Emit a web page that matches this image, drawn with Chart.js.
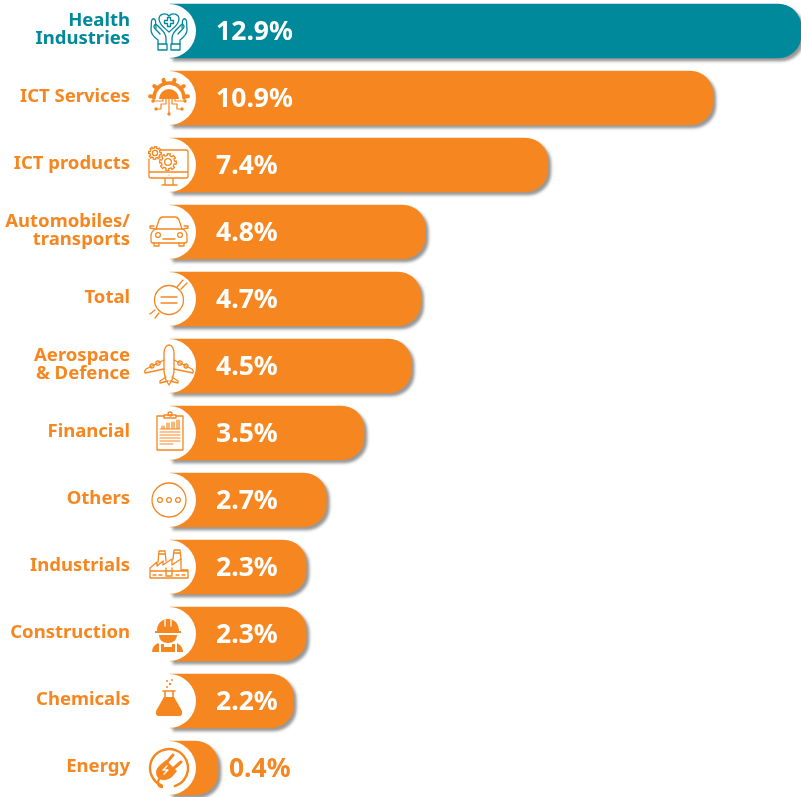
<!DOCTYPE html>
<html lang="en">
<head>
<meta charset="UTF-8">
<title>Sector shares</title>
<script src="https://cdn.jsdelivr.net/npm/chart.js"></script>
<style>
  html, body { margin: 0; padding: 0; background: #fff; overflow: hidden; }
  #wrap { position: relative; width: 801px; height: 797px; overflow: hidden; }
  #chart { position: absolute; left: 0; top: -3px; }
</style>
</head>
<body>
<div id="wrap"><canvas id="chart" width="801" height="805"></canvas></div>
<script>
const categories = [['Health', 'Industries'], 'ICT Services', 'ICT products', ['Automobiles/', 'transports'],
  'Total', ['Aerospace', '& Defence'], 'Financial', 'Others', 'Industrials', 'Construction', 'Chemicals', 'Energy'];
// bar lengths as drawn in the picture (top bar stops at the page edge, Chemicals is drawn shorter than its label)
const barLengths = [12.77, 10.9, 7.4, 4.8, 4.7, 4.5, 3.5, 2.7, 2.27, 2.27, 2.0, 0.4];
const valueLabels = ['12.9%', '10.9%', '7.4%', '4.8%', '4.7%', '4.5%', '3.5%', '2.7%', '2.3%', '2.3%', '2.2%', '0.4%'];

const TEAL = '#00889b';
const ORANGE = '#f68720';
const axisMin = -0.617;
const axisMax = 12.77;
const FONT = '"Noto Sans"';

function stroke(ctx, d) { ctx.stroke(new Path2D(d)); }
function fill(ctx, d) { ctx.fill(new Path2D(d)); }
function circle(ctx, x, y, r, filled) {
  ctx.beginPath();
  ctx.arc(x, y, r, 0, Math.PI * 2);
  if (filled) ctx.fill(); else ctx.stroke();
}
function gear(ctx, x, y, r, teeth) {
  ctx.beginPath();
  for (let i = 0; i < teeth * 2; i++) {
    const a0 = (i - 0.25) * Math.PI / teeth, a1 = (i + 0.75) * Math.PI / teeth;
    const rr = i % 2 ? r * 0.78 : r;
    ctx.lineTo(x + rr * Math.cos(a0), y + rr * Math.sin(a0));
    ctx.lineTo(x + rr * Math.cos(a1), y + rr * Math.sin(a1));
  }
  ctx.closePath();
  ctx.save();
  ctx.fillStyle = '#fff';
  ctx.fill();
  ctx.restore();
  ctx.stroke();
  circle(ctx, x, y, r * 0.4);
}

// one small drawing per category, in the same order
const icons = [
  ctx => { // hands and heart
    stroke(ctx, 'M0 1C-4 -3 -10 -6 -10 -12C-10 -17 -3 -19 0 -15C3 -19 10 -17 10 -12C10 -6 4 -3 0 1Z');
    stroke(ctx, 'M-1.5 -13.5h3v3h3v3h-3v3h-3v-3h-3v-3h3z');
    [1, -1].forEach(s => {
      ctx.save();
      ctx.scale(s, 1);
      stroke(ctx, 'M11 13V9C15 6 18 3 18 -1L17.5 -10C17 -13 14 -13 13.5 -10L13 -3');
      stroke(ctx, 'M3 13V7C3 3 5 1 8 -2L12 -6C14 -7.5 16 -5 14.5 -3L9 3');
      ctx.strokeRect(2, 13, 9, 6);
      ctx.restore();
    });
  },
  ctx => { // gear with circuit lines
    ctx.lineWidth = 3.6;
    ctx.beginPath();
    ctx.arc(0, 0, 15, Math.PI, Math.PI * 2);
    ctx.stroke();
    for (let a = 185; a <= 355; a += 34) {
      const t = a * Math.PI / 180;
      ctx.beginPath();
      ctx.moveTo(15 * Math.cos(t), 15 * Math.sin(t));
      ctx.lineTo(19 * Math.cos(t), 19 * Math.sin(t));
      ctx.lineWidth = 4;
      ctx.stroke();
    }
    ctx.beginPath();
    ctx.arc(0, 1, 10, Math.PI, Math.PI * 2);
    ctx.closePath();
    ctx.fill();
    ctx.lineWidth = 1.2;
    stroke(ctx, 'M0 1V16M-3 1V6H-8V11H-13M3 1V6H8V11H13M-6 1V3H-15M6 1V3H15');
    [[0, 16], [-13, 11], [13, 11], [-16, 3], [16, 3]].forEach(p => circle(ctx, p[0], p[1], 1.7, true));
  },
  ctx => { // monitor and gears
    stroke(ctx, 'M-11 -15H17Q19 -15 19 -13V11Q19 13 17 13H-18Q-20 13 -20 11V-6M-20 7H19M-4 13V19M4 13V19M-7 20H8');
    circle(ctx, 0, 10, 0.6, true);
    gear(ctx, -14, -12, 6.5, 8);
    gear(ctx, -1, -3, 8.5, 8);
  },
  ctx => { // car
    stroke(ctx, 'M-13 -3L-10 -12Q-9 -15 -6 -15H6Q9 -15 10 -12L13 -3M-13 -3H13M-13 -3Q-18 -1 -18 4V9Q-18 11 -16 11H16Q18 11 18 9V4Q18 -1 13 -3');
    stroke(ctx, 'M-15 11V14H-10V11M15 11V14H10V11M-6 7H6M-14 -3L-19 -4V-6H-15M14 -3L19 -4V-6H15');
    circle(ctx, -11, 3, 2.4);
    circle(ctx, 11, 3, 2.4);
  },
  ctx => { // circle with equals sign
    circle(ctx, 0, 1, 14.5);
    stroke(ctx, 'M-8 -2H8M-8 4H8M8 -12L14 -19M12 -10L18 -16M-14 11L-19 15M-10 14L-14 19');
  },
  ctx => { // plane
    stroke(ctx, 'M0 -21C3 -21 5 -17 5 -13V6L3 14L0 19L-3 14L-5 6V-13C-5 -17 -3 -21 0 -21Z');
    stroke(ctx, 'M-5 -6L-23 3Q-25 5 -24 7L-5 3M5 -6L23 3Q25 5 24 7L5 3M-3 11L-9 15V17L-1 15M3 11L9 15V17L1 15');
    circle(ctx, -11, -3, 2.2);
    circle(ctx, -17, 0, 2);
    circle(ctx, 11, -3, 2.2);
    circle(ctx, 17, 0, 2);
  },
  ctx => { // clipboard with bars
    stroke(ctx, 'M-5 -17H-12V17H14V-17H7');
    stroke(ctx, 'M-5 -15H7V-18H-5Z');
    circle(ctx, 1, -19, 2);
    ctx.lineWidth = 1.2;
    stroke(ctx, 'M-9 -4H11M-7 -4V-7M-5 -4V-7M-2 -4V-10M0 -4V-10M3 -4V-11M5 -4V-11M8 -4V-13M10 -4V-13');
    stroke(ctx, 'M-9 -1H11M-9 2H11M-9 5H11M-9 8H11M-9 11H4');
  },
  ctx => { // dots in a circle
    circle(ctx, 0, 0, 17);
    [-9, 0, 9].forEach(x => circle(ctx, x, 0, 2.4));
  },
  ctx => { // factory
    stroke(ctx, 'M-19 11H19M-19 11V1L-12 -5V-1L-6 -6V-2L3 -8V-2L12 -8V3L19 3V11M-19 4H19');
    stroke(ctx, 'M-11 -5L-10 -16H-4L-3 -6M4 -8L5 -17H11L12 -8M-10 -13H-4M5 -14H11');
    stroke(ctx, 'M-16 8H-13M-10 8H-7M-3 1V9H3V1M7 8H10M13 8H16');
  },
  ctx => { // worker
    fill(ctx, 'M-12 -3C-12 -10 -8 -15 -1 -15C6 -15 10 -10 10 -3H12V-1H-14V-3Z');
    fill(ctx, 'M-10 1H8C8 6 4 9 -1 9C-6 9 -10 6 -10 1Z');
    fill(ctx, 'M-10 18H-17C-17 14 -15 11 -11 9L-10 10ZM8 18H14C14 14 12 11 8 9L8 10ZM-8 18V10H-5V13H3V10H6V18Z');
    ctx.save();
    ctx.strokeStyle = '#fff';
    stroke(ctx, 'M-4 -14V-8M2 -14V-8');
    ctx.restore();
  },
  ctx => { // flask
    fill(ctx, 'M-5 -4H5L13 10Q14 15 10 15H-10Q-14 15 -13 10Z');
    ctx.lineWidth = 1.6;
    stroke(ctx, 'M-6 -10H6M-4 -10V-3L-5 -1M4 -10V-3L5 -1');
    [[-2, -14, 1], [1, -17, 1.2], [-2, -20, 1], [3, -21, 1]].forEach(p => circle(ctx, p[0], p[1], p[2], true));
  },
  ctx => { // plug in a ring
    ctx.lineWidth = 2.4;
    ctx.beginPath();
    ctx.arc(0, 0, 19, Math.PI * 0.62, Math.PI * 2.4);
    ctx.stroke();
    stroke(ctx, 'M-7 19C-12 18 -12 13 -9 10');
    fill(ctx, 'M-11 10Q-16 3 -9 -3L-3 -8L8 3L3 9Q-4 15 -11 10Z');
    ctx.lineWidth = 3;
    stroke(ctx, 'M-2 -6L4 -13M5 0L12 -6');
    ctx.save();
    ctx.strokeStyle = '#fff';
    ctx.lineWidth = 1.3;
    stroke(ctx, 'M-2 -2L-6 2L-1 2L-5 6');
    ctx.restore();
  }
];

const barDecor = {
  id: 'barDecor',
  beforeDatasetsDraw(chart) {
    const ctx = chart.ctx;
    ctx.save();
    ctx.shadowColor = 'rgba(95,95,95,0.65)';
    ctx.shadowBlur = 3;
    ctx.shadowOffsetX = 3;
    ctx.shadowOffsetY = 3;
  },
  afterDatasetsDraw(chart) {
    const ctx = chart.ctx;
    ctx.restore();
    const yScale = chart.scales.y;
    const xScale = chart.scales.x;
    const cx = xScale.left - 1;
    const valueStart = xScale.getPixelForValue(0) + 17;
    barLengths.forEach((v, i) => {
      const y = yScale.getPixelForValue(i);
      const end = xScale.getPixelForValue(v);
      const colour = i === 0 ? TEAL : ORANGE;

      ctx.save();
      ctx.fillStyle = '#fff';
      ctx.beginPath();
      ctx.arc(cx, y, 27, 0, Math.PI * 2);
      ctx.fill();

      ctx.translate(cx, y);
      ctx.strokeStyle = colour;
      ctx.fillStyle = colour;
      ctx.lineWidth = 1.3;
      ctx.lineJoin = 'round';
      ctx.lineCap = 'round';
      icons[i](ctx);
      ctx.restore();

      // the last bar is too short for its label
      const inside = end - valueStart > 50;
      ctx.save();
      ctx.font = 'bold 26.5px ' + FONT;
      ctx.textBaseline = 'middle';
      ctx.textAlign = 'left';
      ctx.fillStyle = inside ? '#fff' : colour;
      ctx.fillText(valueLabels[i], inside ? valueStart : end + 11, y + 1.5);
      ctx.restore();
    });
  }
};

new Chart(document.getElementById('chart'), {
  type: 'bar',
  data: {
    labels: categories,
    datasets: [{
      data: barLengths,
      base: axisMin,
      backgroundColor: barLengths.map((v, i) => i === 0 ? TEAL : ORANGE),
      barThickness: 54,
      borderRadius: { topRight: 23, bottomRight: 23 },
      borderSkipped: 'left',
      clip: false
    }]
  },
  options: {
    indexAxis: 'y',
    responsive: false,
    animation: false,
    devicePixelRatio: 1,
    layout: { padding: { top: 0.5, bottom: 0.5, left: 0, right: 0 } },
    events: [],
    plugins: { legend: { display: false }, tooltip: { enabled: false } },
    scales: {
      x: {
        display: false,
        min: axisMin,
        max: axisMax
      },
      y: {
        afterFit(scale) {
          scale.width = 170;
          // tick padding would otherwise also be reserved above and below the axis
          scale.paddingTop = 0;
          scale.paddingBottom = 0;
        },
        border: { display: false },
        grid: { display: false, drawTicks: false },
        ticks: {
          autoSkip: false,
          padding: 40,
          labelOffset: -1,
          color: c => c.index === 0 ? TEAL : ORANGE,
          font: { family: FONT, size: 18.5, weight: 'bold', lineHeight: 0.97 }
        }
      }
    }
  },
  plugins: [barDecor]
});
</script>
</body>
</html>
